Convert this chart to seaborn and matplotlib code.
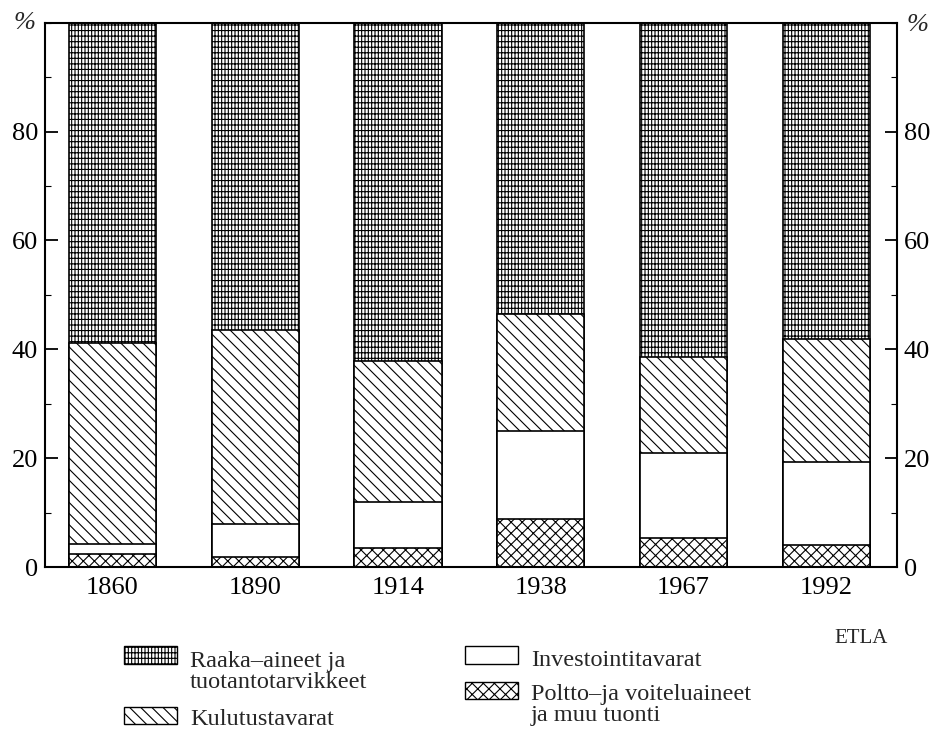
# import_structure_etla.py

import pandas as pd
import seaborn as sns
import matplotlib.pyplot as plt
from matplotlib.patches import Rectangle
from matplotlib.ticker import MultipleLocator

# Shares of imports by goods group, %
years = ["1860", "1890", "1914", "1938", "1967", "1992"]
fuel = [2.3, 1.9, 3.4, 8.9, 5.3, 4.0]
investment = [1.9, 6.0, 8.5, 16.1, 15.7, 15.3]
consumer = [37.0, 35.7, 26.0, 21.4, 17.5, 22.5]
raw = [58.8, 56.4, 62.1, 53.6, 61.5, 58.2]

labels = ["Raaka\u2013aineet ja\ntuotantotarvikkeet",
          "Kulutustavarat",
          "Investointitavarat",
          "Poltto\u2013ja voiteluaineet\nja muu tuonti"]

df = pd.DataFrame({"year": years, "fuel": fuel, "investment": investment,
                   "consumer": consumer, "raw": raw})
df["cum_fuel"] = df["fuel"]
df["cum_inv"] = df["cum_fuel"] + df["investment"]
df["cum_cons"] = df["cum_inv"] + df["consumer"]
df["cum_raw"] = df["cum_cons"] + df["raw"]

sns.set_theme(style="white")
plt.rcParams['font.family'] = ['Liberation Serif', 'DejaVu Serif']
plt.rcParams['hatch.linewidth'] = 0.8
plt.rcParams['hatch.color'] = 'black'

raw_hatch = "|||||---"
cons_hatch = "\\\\\\"
fuel_hatch = "xxx"

W, H = 938, 736
fig = plt.figure(figsize=(W / 100, H / 100), dpi=100)
ax = fig.add_axes([45 / W, 1 - 567 / H, (897 - 45) / W, (567 - 22.7) / H])

# stacked bars drawn from the total downwards, each layer over the last
layers = [("cum_raw", raw_hatch), ("cum_cons", cons_hatch),
          ("cum_inv", ""), ("cum_fuel", fuel_hatch)]
for col, hatch in layers:
    sns.barplot(data=df, x="year", y=col, order=years, color="white",
                edgecolor="black", linewidth=1.2, hatch=hatch, width=0.61,
                errorbar=None, saturation=1, ax=ax)

ax.set_xlim(-0.473, 5.496)
ax.set_ylim(0, 100)
ax.set_xlabel("")
ax.set_ylabel("")

ax.set_yticks([0, 20, 40, 60, 80])
ax.yaxis.set_minor_locator(MultipleLocator(10))
ax.tick_params(axis="y", which="both", direction="in", left=True, right=True,
               labelleft=True, labelright=True, labelsize=19, pad=5,
               colors="black")
ax.tick_params(axis="y", which="major", length=9, width=1.3)
ax.tick_params(axis="y", which="minor", length=4, width=0.8)
ax.tick_params(axis="x", length=0, labelsize=19, pad=7, colors="black")

for s in ax.spines.values():
    s.set_visible(True)
    s.set_color("black")
    s.set_linewidth(1.5)

ax.annotate("%", xy=(0, 1), xycoords="axes fraction", xytext=(-7, 0),
            textcoords="offset points", ha="right", va="center",
            fontsize=19, style="italic")
ax.annotate("%", xy=(1, 1), xycoords="axes fraction", xytext=(7, -2),
            textcoords="offset points", ha="left", va="center",
            fontsize=19, style="italic")

# legend drawn by hand, two columns under the chart
def px(x, y):
    return x / W, 1 - y / H

# (patch left, patch top, patch bottom, hatch, label, text left, last baseline)
legend_items = [
    (124, 646, 664, raw_hatch, labels[0], 190, 688),
    (124, 707, 724, cons_hatch, labels[1], 190, 725),
    (465, 646, 664, "", labels[2], 531, 666),
    (465, 682, 699, fuel_hatch, labels[3], 531, 721),
]
for x0, ytop, ybot, hatch, text, tx, ty in legend_items:
    fx, fy = px(x0, ybot)
    fig.add_artist(Rectangle((fx, fy), 53 / W, (ybot - ytop) / H,
                             transform=fig.transFigure, facecolor="white",
                             edgecolor="black", linewidth=1.0, hatch=hatch))
    tfx, tfy = px(tx, ty)
    fig.text(tfx, tfy, text, ha="left", va="baseline",
             fontsize=17.5, linespacing=1.0)

tfx, tfy = px(834, 643)
fig.text(tfx, tfy, "ETLA", ha="left", va="baseline", fontsize=15)

fig.savefig("out.png", dpi=100)
